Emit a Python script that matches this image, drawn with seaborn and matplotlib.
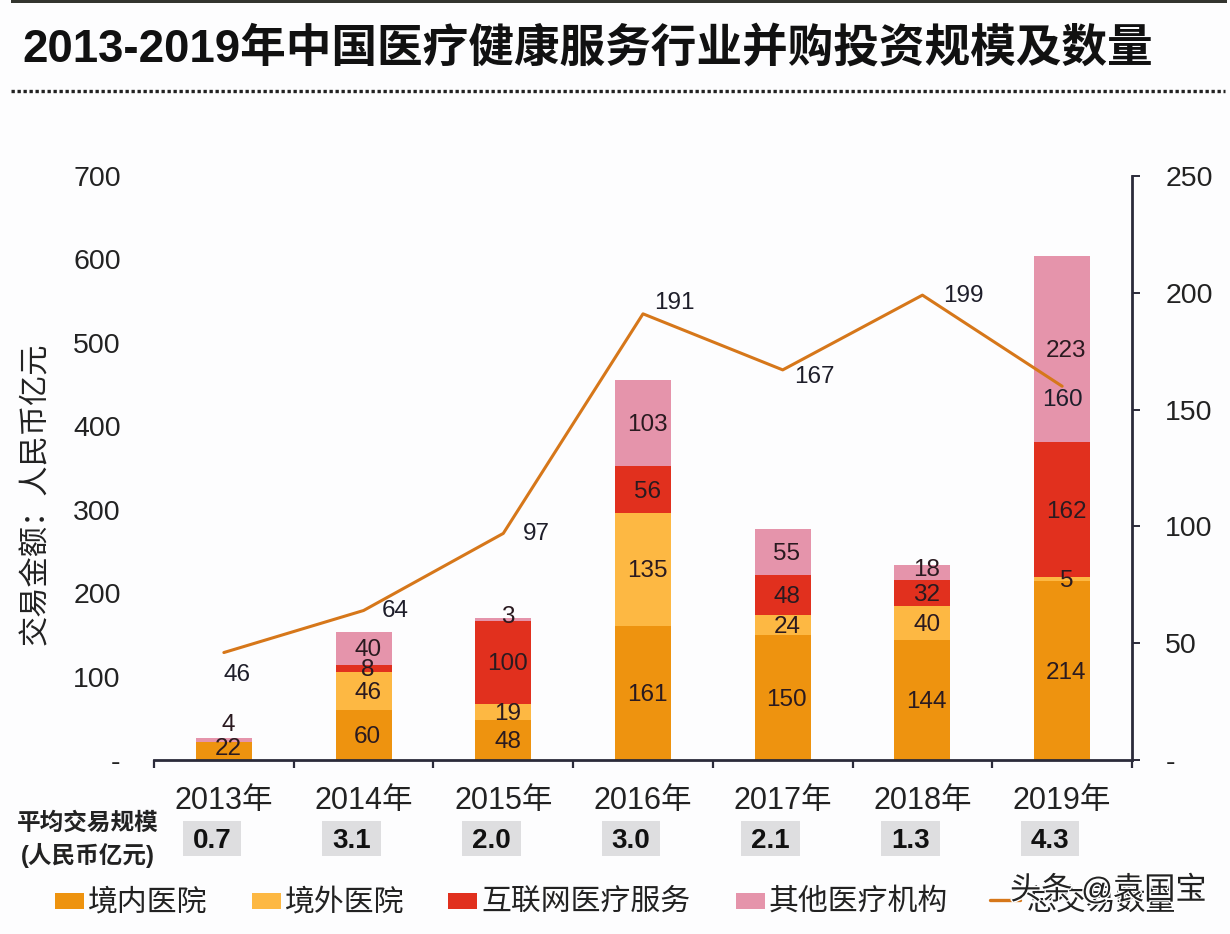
import numpy as np
import pandas as pd
import matplotlib
matplotlib.use('Agg')
import matplotlib.pyplot as plt
import matplotlib.patheffects as pe
from matplotlib.patches import Rectangle
import seaborn as sns

years = ['2013年', '2014年', '2015年', '2016年', '2017年', '2018年', '2019年']
domestic = [22, 60, 48, 161, 150, 144, 214]
overseas = [0, 46, 19, 135, 24, 40, 5]
internet = [0, 8, 100, 56, 48, 32, 162]
other = [4, 40, 3, 103, 55, 18, 223]
deal_count = [46, 64, 97, 191, 167, 199, 160]
avg_size = ['0.7', '3.1', '2.0', '3.0', '2.1', '1.3', '4.3']

series_names = ['境内医院', '境外医院', '互联网医疗服务', '其他医疗机构']
series_values = [domestic, overseas, internet, other]
series_colors = ['#EE930F', '#FDB843', '#E1301E', '#E594AB']
line_color = '#D6771A'

# label offsets from the line points, in pixels (x right, y down)
count_offsets = [(13, 22), (32, 1), (33, 1), (31, -11), (32, 7), (41, 1), (0, 14)]
# labels of thin segments that do not sit on the shared baseline shift, in points
label_nudge = {(0, 0): 1, (0, 3): 10.5, (2, 3): 1.5, (5, 3): 1.5}

sns.set_theme(style='white')
latin = ['Liberation Sans', 'Noto Sans CJK SC', 'DejaVu Sans']
plt.rcParams['font.family'] = latin
plt.rcParams['axes.unicode_minus'] = False

W, H = 1230, 934
fig = plt.figure(figsize=(W / 100, H / 100), dpi=100, facecolor='#FDFDFE')
ax = fig.add_axes([154 / W, 1 - 760 / H, (1132 - 154) / W, (760 - 176) / H])
ax.set_facecolor('none')

df = pd.DataFrame({'year': years})
bottom = np.zeros(len(years))
for s, (name, vals, color) in enumerate(zip(series_names, series_values, series_colors)):
    df['value'] = vals
    sns.barplot(data=df, x='year', y='value', ax=ax, color=color, width=0.4,
                bottom=bottom, saturation=1, linewidth=0, label=name, legend=False)
    for i, v in enumerate(vals):
        if v == 0:
            continue
        y_mid = bottom[i] + v / 2
        dy = label_nudge.get((i, s), -1.5)
        ax.annotate(str(v), (i, y_mid), xytext=(3, dy), textcoords='offset points',
                    ha='center', va='center', fontsize=17.5, color='#2A1A20')
    bottom = bottom + np.array(vals)

ax.set_xlim(-0.5, len(years) - 0.5)
ax.set_ylim(0, 700)
ax.set_xlabel('')
ax.set_ylabel('交易金额：人民币亿元', fontsize=21.8, color='#222222')
ax.yaxis.set_label_coords((50 - 154) / 978, (760 - 494) / 584)

ax.set_yticks(range(0, 800, 100))
ax.set_yticklabels(['-', '100', '200', '300', '400', '500', '600', '700'], fontsize=20.5, color='#222222')

# tick marks between categories, year labels under the bars
ax.set_xticks(np.arange(-0.5, len(years)))
ax.set_xticklabels([])
ax.set_xticks(range(len(years)), minor=True)
ax.set_xticklabels(years, minor=True, fontsize=22, color='#222222')
ax.tick_params(axis='x', which='major', bottom=True, length=6, width=1.6, color='#2B2B3A')
ax.tick_params(axis='x', which='minor', bottom=False, pad=15)

sns.despine(ax=ax, left=True, right=True, top=True)
ax.spines['bottom'].set_linewidth(2)
ax.spines['bottom'].set_color('#2B2B3A')

ax2 = ax.twinx()
ax2.set_facecolor('none')
line_df = pd.DataFrame({'pos': range(len(years)), 'count': deal_count})
sns.lineplot(data=line_df, x='pos', y='count', ax=ax2, color=line_color, linewidth=2.2, legend=False)
ax2.set_ylim(0, 250)
ax2.set_xlim(-0.5, len(years) - 0.5)
ax2.set_ylabel('')
ax2.set_yticks(range(0, 300, 50))
ax2.set_yticklabels(['-', '50', '100', '150', '200', '250'], fontsize=20.5, color='#222222')
ax2.tick_params(axis='y', right=True, length=6, width=1.4, color='#2B2B3A', pad=18)
for lab in ax2.get_yticklabels():
    lab.set_ha('left')
for side in ['top', 'left', 'bottom']:
    ax2.spines[side].set_visible(False)
ax2.spines['right'].set_visible(True)
ax2.spines['right'].set_linewidth(2)
ax2.spines['right'].set_color('#2B2B3A')

# twinx turns the left ticks back on
ax.tick_params(axis='y', left=False, pad=18)

for i, (v, off) in enumerate(zip(deal_count, count_offsets)):
    ax2.annotate(str(v), (i, v), xytext=(off[0] * 0.72, -off[1] * 0.72), textcoords='offset points',
                 ha='center', va='center', fontsize=17.5, color='#1E1E2A')

# average deal size row
row_top = (760 - 821) / 584
row_bottom = (760 - 856) / 584
for i, s in enumerate(avg_size):
    ax.add_patch(Rectangle((i - 0.086 - 0.21, row_bottom), 0.42, row_top - row_bottom,
                           transform=ax.get_xaxis_transform(), fc='#DEDEE0', ec='none', clip_on=False))
    ax.annotate(s, (i, row_bottom), xycoords=ax.get_xaxis_transform(), xytext=(-12 * 0.72, 14.5 * 0.72),
                textcoords='offset points', ha='center', va='center', fontsize=20, fontweight='bold',
                color='#111111')
fig.text(88 / W, 1 - 823 / H, '平均交易规模', fontsize=17, fontweight='bold', ha='center', va='center', color='#222222')
fig.text(88 / W, 1 - 855 / H, '(人民币亿元)', fontsize=17, fontweight='bold', ha='center', va='center', color='#222222')

# title, dotted rule and the dark strip at the very top of the source image
fig.add_artist(Rectangle((11 / W, 1 - 3 / H), (1227 - 11) / W, 3 / H, transform=fig.transFigure, fc='#33352F', ec='none'))
fig.text(22 / W, 1 - 50 / H, '2013-2019年中国医疗健康服务行业并购投资规模及数量', fontsize=32.9,
         fontweight='bold', ha='left', va='center', color='#111111')
fig.add_artist(plt.Line2D([11 / W, 1225 / W], [1 - 91 / H] * 2, color='#222222', linewidth=2.4,
                          linestyle=(0, (1, 0.8))))

# legend along the bottom, placed by hand like the source slide
legend_x = [55, 252, 448, 736]
legend_text_x = [88, 285, 481, 769]
for name, color, lx, tx in zip(series_names, series_colors, legend_x, legend_text_x):
    fig.add_artist(Rectangle((lx / W, 1 - 909 / H), 29 / W, 16 / H, transform=fig.transFigure, fc=color, ec='none'))
    fig.text(tx / W, 1 - 902 / H, name, fontsize=21.5, ha='left', va='center', color='#222222')
fig.add_artist(plt.Line2D([990 / W, 1020 / W], [1 - 900 / H] * 2, color=line_color, linewidth=2.4))
fig.text(1027 / W, 1 - 902 / H, '总交易数量', fontsize=21.5, ha='left', va='center', color='#222222')

# watermark sits over the legend in the source image
fig.text(1010 / W, 1 - 891 / H, '头条 @袁国宝', fontsize=22.5, ha='left', va='center', color='#222222',
         path_effects=[pe.withStroke(linewidth=2, foreground='white')])

fig.savefig('out.png', dpi=100, facecolor=fig.get_facecolor())
